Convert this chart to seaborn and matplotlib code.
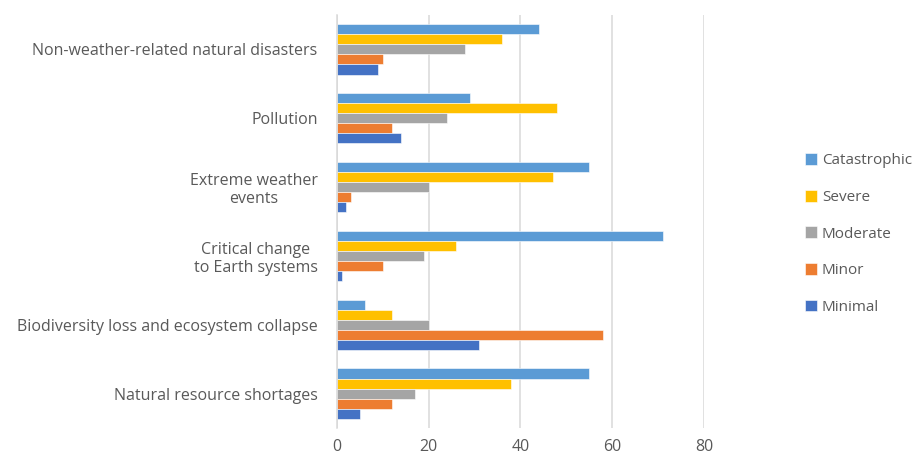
import seaborn as sns
import matplotlib.pyplot as plt
import pandas as pd

categories = ['Non-weather-related natural disasters', 'Pollution',
              'Extreme weather\nevents', 'Critical change\nto Earth systems',
              'Biodiversity loss and ecosystem collapse', 'Natural resource shortages']
severities = ['Catastrophic', 'Severe', 'Moderate', 'Minor', 'Minimal']

catastrophic = [44, 29, 55, 71, 6, 55]
severe = [36, 48, 47, 26, 12, 38]
moderate = [28, 24, 20, 19, 20, 17]
minor = [10, 12, 3, 10, 58, 12]
minimal = [9, 14, 2, 1, 31, 5]

colors = ['#5B9BD5', '#FFC000', '#A5A5A5', '#ED7D31', '#4472C4']

series = [catastrophic, severe, moderate, minor, minimal]
rows = []
for sev, vals in zip(severities, series):
    for cat, v in zip(categories, vals):
        rows.append({'category': cat, 'severity': sev, 'value': v})
df = pd.DataFrame(rows)

sns.set_style('white')
plt.rcParams['font.family'] = ['Open Sans', 'DejaVu Sans']
text_color = '#595959'
grid_color = '#D9D9D9'

fig = plt.figure(figsize=(9.2, 4.57), dpi=100)
ax = fig.add_axes([337 / 920, 1 - 428 / 457, (704 - 337) / 920, 413 / 457])

sns.barplot(data=df, y='category', x='value', hue='severity', order=categories,
            hue_order=severities, palette=colors, saturation=1, orient='h', width=0.73,
            edgecolor='white', linewidth=0.4, ax=ax, legend=True)

ax.set_xlim(0, 80)
ax.set_xticks([0, 20, 40, 60, 80])
ax.set_xlabel('')
ax.set_ylabel('')
ax.grid(axis='x', color=grid_color, linewidth=1.1)
ax.set_axisbelow(True)
for s in ['top', 'right', 'bottom']:
    ax.spines[s].set_visible(False)
ax.spines['left'].set_color(grid_color)
ax.spines['left'].set_linewidth(1.1)
ax.tick_params(axis='both', length=0, colors=text_color, labelsize=11.5)
ax.tick_params(axis='x', pad=8)
ax.tick_params(axis='y', pad=14)
for lbl in ax.get_yticklabels():
    lbl.set_multialignment('center')

handles, labels = ax.get_legend_handles_labels()
ax.legend(handles, labels, loc='center left', bbox_to_anchor=(805 / 920, 1 - 234 / 457),
          bbox_transform=fig.transFigure, frameon=False, fontsize=11,
          labelcolor=text_color, handlelength=0.8, handleheight=0.8,
          handletextpad=0.3, labelspacing=1.4, borderaxespad=0, borderpad=0)

fig.savefig('out.png', dpi=100)
